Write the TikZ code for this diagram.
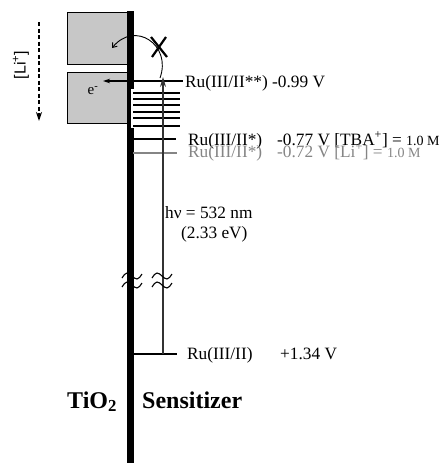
\documentclass[tikz,border=0pt]{standalone}
\usepackage{fontspec}
\setmainfont{Liberation Serif}
\newfontfamily\lisans{Liberation Sans}
\usetikzlibrary{arrows.meta,positioning,calc}

\begin{document}
\begin{tikzpicture}[x=1pt, y=-1pt,
    txt/.style={anchor=base west, inner sep=0pt, font=\fontsize{17.3}{20}\selectfont},
    bigtxt/.style={anchor=base west, inner sep=0pt, font=\bfseries\fontsize{24}{26}\selectfont},
    faded/.style={black!48},
    band/.style={draw=black, line width=0.8pt, fill=black!22},
    lvl/.style={line width=1.5pt},
    wig/.style={line width=1.1pt}]
    \useasboundingbox (0,0) rectangle (444,463);

    % TiO2 bands
    \draw[band] (67,12) rectangle (128,64);
    \draw[band] (67,72) rectangle (128,123);

    % Interface
    \fill (127,11) rectangle (133.5,89);
    \fill (127,89) rectangle (130.5,128);
    \fill (127,128) rectangle (133.5,463);

    % Level end points
    \coordinate (hiL) at (127,81);
    \coordinate (hiR) at (183,81);
    \coordinate (tbaL) at (133,139);
    \coordinate (tbaR) at (176,139);
    \coordinate (liL) at (133,153);
    \coordinate (liR) at (177,153);
    \coordinate (gsL) at (133,354);
    \coordinate (gsR) at (177,354);
    \coordinate (exBot) at (163,354);
    \coordinate (exTop) at (163,77);
    \coordinate (inj) at (103,81);
    \coordinate (hop) at (160,78);
    \coordinate (back) at (112,48);
    \coordinate (liTop) at (39,22);
    \coordinate (liBot) at (39,121);

    % Levels
    \draw[lvl] (hiL) -- (hiR);
    \foreach \y in {93,99,105,112,118,126}
        \draw[lvl] (133,\y) -- (180,\y);
    \draw[lvl] (tbaL) -- (tbaR);
    \draw[lvl, faded, line width=1.2pt] (liL) -- (liR);
    \draw[lvl] (gsL) -- (gsR);

    % Excitation and injection
    \draw[line width=1.1pt, black!80, -{Stealth[length=10pt,width=6pt]}] (exBot) -- (exTop);
    \draw[line width=1.4pt, -{Stealth[length=7pt,width=4.5pt]}] (hiL) -- (inj);
    \draw[line width=0.9pt, -{Straight Barb[length=4pt,width=6pt]}] (hop) .. controls (172,45) and (135,20) .. (back);
    \draw[line width=2.2pt] (151,37) -- (167,57) (166,37) -- (152,57);

    % Breaks
    \foreach \cx in {132,162}
        \foreach \cy in {276,285}
            \draw[wig] (\cx-10,\cy+2) sin (\cx-5,\cy-3) cos (\cx,\cy) sin (\cx+5,\cy+3) cos (\cx+10,\cy-2);

    % Labels
    \node[txt] (hi) at (185,87) {Ru(III/II**) -0.99 V};
    \node[txt] (tba) at (188,145) {Ru(III/II*)};
    \node[txt] (tbaE) at (277,145) {-0.77 V [TBA\textsuperscript{+}] = {\fontsize{14}{14}\selectfont 1.0 M}};
    \node[txt, faded] (li) at (188,157) {Ru(III/II*)};
    \node[txt, faded] (liE) at (277,157) {-0.72 V [Li\textsuperscript{+}] = {\fontsize{14}{14}\selectfont 1.0 M}};
    \node[txt] (gs) at (187,359) {Ru(III/II)};
    \node[txt] (gsE) at (280,359) {+1.34 V};
    \node[txt] (hv) at (165,218) {hν = 532 nm};
    \node[txt] (ev) at (181,238) {(2.33 eV)};
    \node[font=\fontsize{15}{15}\selectfont] (elec) at (93,91) {e\textsuperscript{-}};
    \node[bigtxt] (tio) at (67,408) {TiO\textsubscript{2}};
    \node[bigtxt] (sens) at (142,408) {Sensitizer};

    % Li+ direction
    \node[rotate=90, inner sep=0pt, font=\lisans\fontsize{16}{16}\selectfont] (lion) at (21,65) {[Li\textsuperscript{+}]};
    \draw[line width=1.6pt, dash pattern=on 4pt off 2.5pt, -{Stealth[length=9pt,width=6pt]}] (liTop) -- (liBot);
\end{tikzpicture}
\end{document}
